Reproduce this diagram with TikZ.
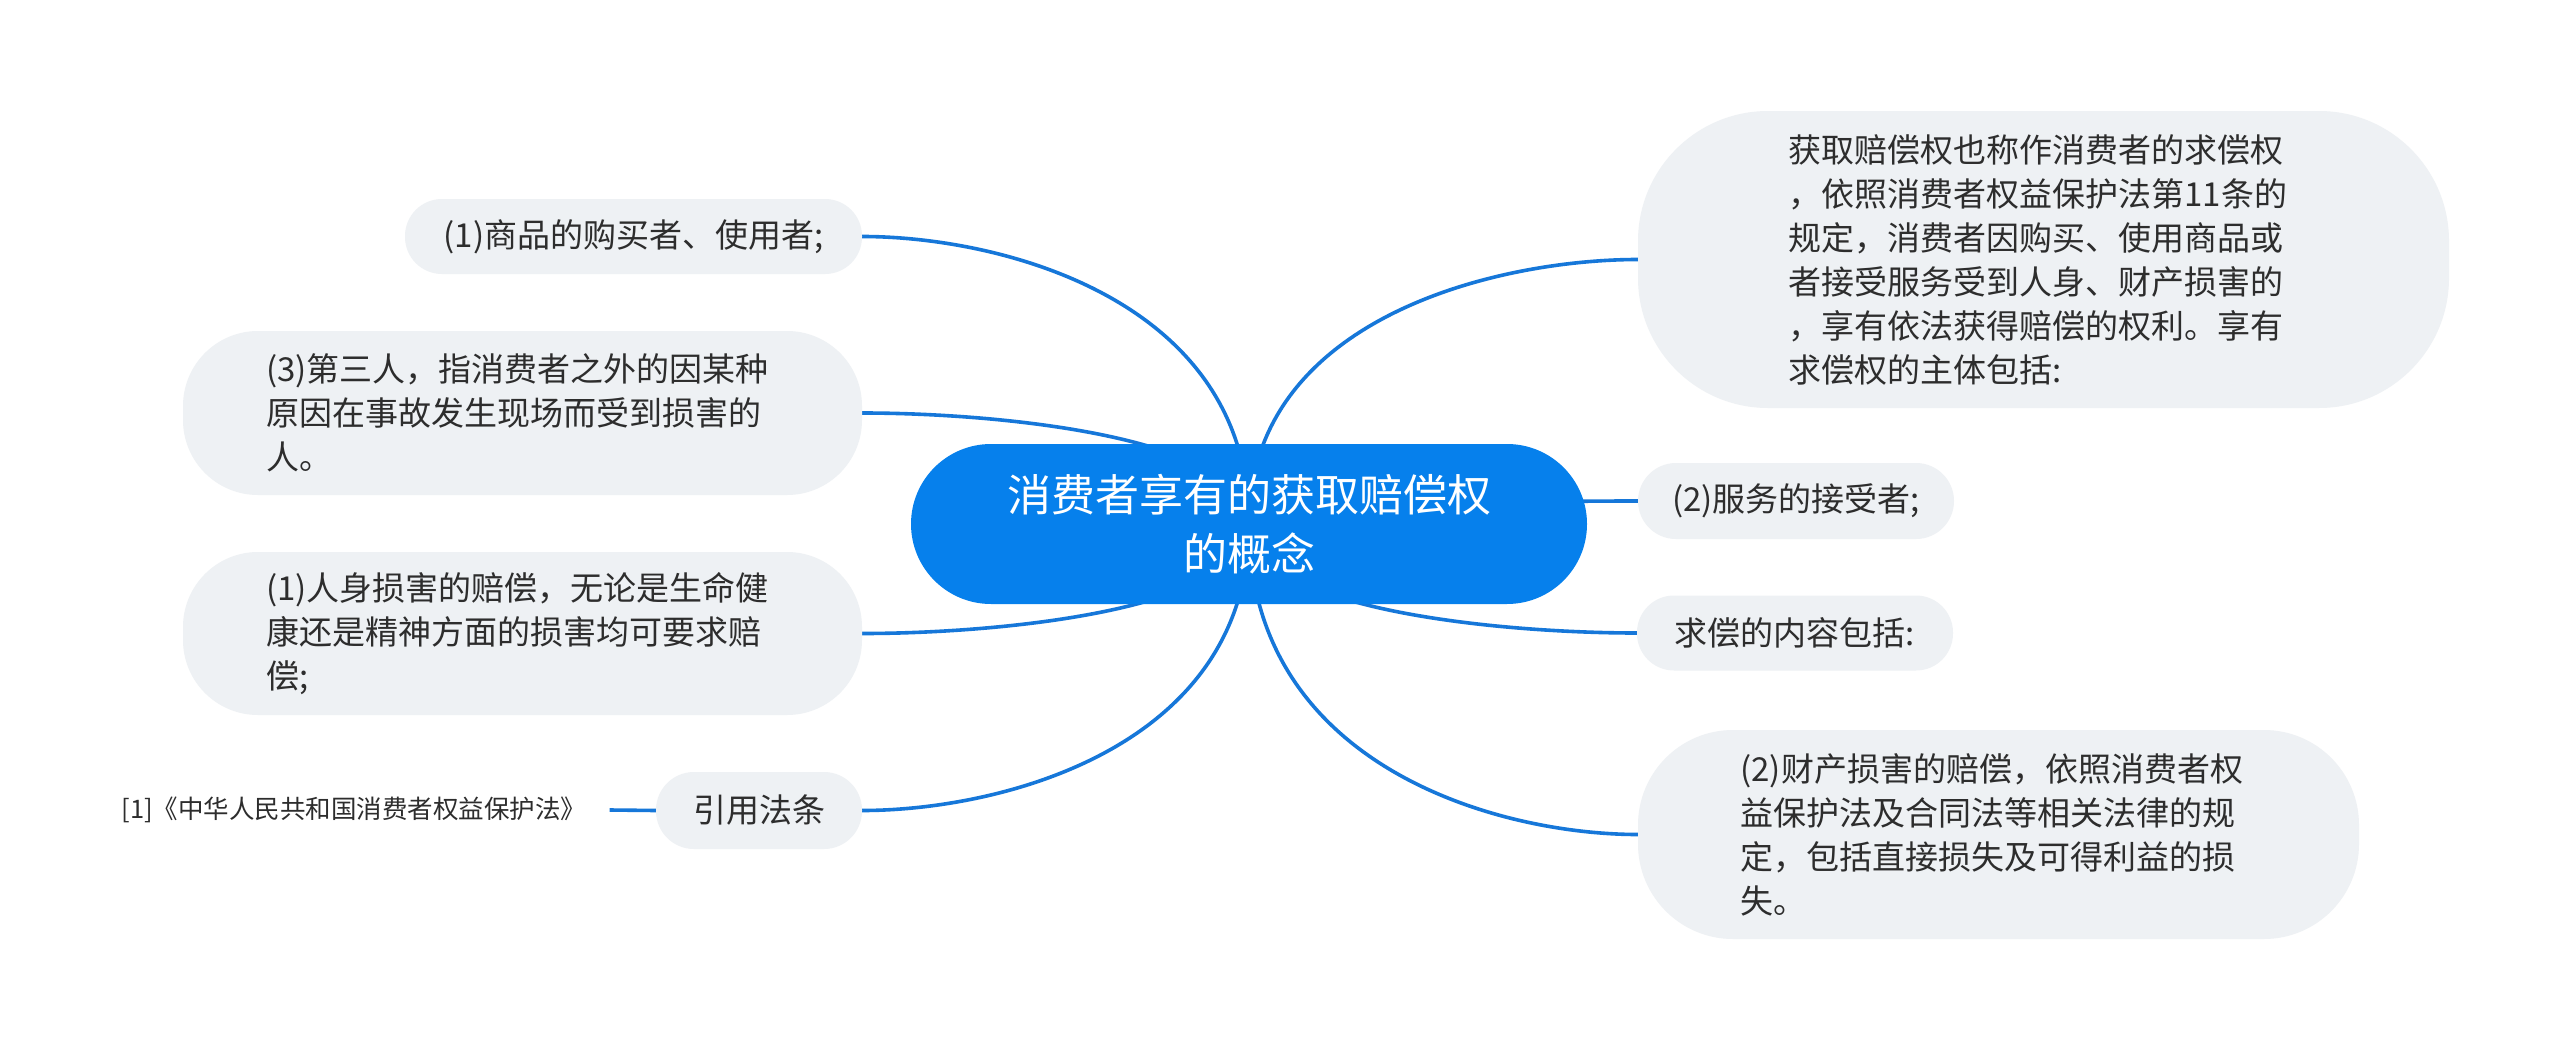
\documentclass[tikz,border=0pt]{standalone}
\usepackage{fontspec}
\setmainfont{Noto Sans CJK SC}
\usetikzlibrary{backgrounds,calc}
\pgfdeclarelayer{bottom}
\pgfsetlayers{bottom,background,main}
\definecolor{lineblue}{RGB}{22,119,217}
\definecolor{mainblue}{RGB}{6,128,236}
\definecolor{nodegray}{RGB}{238,241,244}
\definecolor{txt}{RGB}{45,45,45}
\begin{document}
\begin{tikzpicture}[x=1pt,y=-1pt,
  mainnode/.style={fill=mainblue, text=white, rounded corners=80pt, minimum width=676pt, minimum height=160pt, align=center, font=\fontsize{44}{59}\selectfont, inner sep=0pt},
  subnode/.style={fill=nodegray, text=txt, font=\fontsize{33}{44}\selectfont, inner sep=0pt},
  conn/.style={draw=lineblue, line width=3.6pt}]
\begin{pgfonlayer}{bottom}
\fill[white] (0,0) rectangle (2560,1049);
\end{pgfonlayer}
\useasboundingbox (0,0) rectangle (2560,1049);

\node[mainnode] (c) at (1249,524) {消费者享有的获取赔偿权\\的概念};

\node[subnode, text width=510pt, align=left, minimum width=811pt, minimum height=297pt, rounded corners=130pt] (r1) at (2043.5,259.5)
  {获取赔偿权也称作消费者的求偿权\\，依照消费者权益保护法第11条的\\规定，消费者因购买、使用商品或\\者接受服务受到人身、财产损害的\\，享有依法获得赔偿的权利。享有\\求偿权的主体包括:};
\node[subnode, align=center, minimum width=316pt, minimum height=76pt, rounded corners=38pt] (r2) at (1796,501) {(2)服务的接受者;};
\node[subnode, align=center, minimum width=316pt, minimum height=75pt, rounded corners=37pt] (r3) at (1795,633) {求偿的内容包括:};
\node[subnode, text width=516pt, align=left, minimum width=721pt, minimum height=209pt, rounded corners=95pt] (r4) at (1998.5,834.5)
  {(2)财产损害的赔偿，依照消费者权\\益保护法及合同法等相关法律的规\\定，包括直接损失及可得利益的损\\失。};

\node[subnode, align=center, minimum width=457pt, minimum height=75pt, rounded corners=37pt] (l1) at (633.5,236.5) {(1)商品的购买者、使用者;};
\node[subnode, text width=513pt, align=left, minimum width=679pt, minimum height=164pt, rounded corners=75pt] (l2) at (522.5,413)
  {(3)第三人，指消费者之外的因某种\\原因在事故发生现场而受到损害的\\人。};
\node[subnode, text width=513pt, align=left, minimum width=679pt, minimum height=163pt, rounded corners=75pt] (l3) at (522.5,633.5)
  {(1)人身损害的赔偿，无论是生命健\\康还是精神方面的损害均可要求赔\\偿;};
\node[subnode, align=center, minimum width=206pt, minimum height=77pt, rounded corners=38pt] (l4) at (759,810.5) {引用法条};
\node[text=txt, font=\fontsize{25.5}{30}\selectfont, inner sep=0pt] (law) at (354,810) {[1]《中华人民共和国消费者权益保护法》};

\begin{scope}[on background layer]
\foreach \n/\a in {l1/east, l2/east, l3/east, l4/east, r1/west, r2/west, r3/west, r4/west} {
  \draw[conn] (c.center) .. controls ($(c.center)!0.78!(c.center |- \n.\a)$) and ($(c.center |- \n.\a)!0.64!(\n.\a)$) .. (\n.\a);
}
\draw[conn] (l4.west) -- ([xshift=23pt]law.east);
\end{scope}
\end{tikzpicture}
\end{document}
